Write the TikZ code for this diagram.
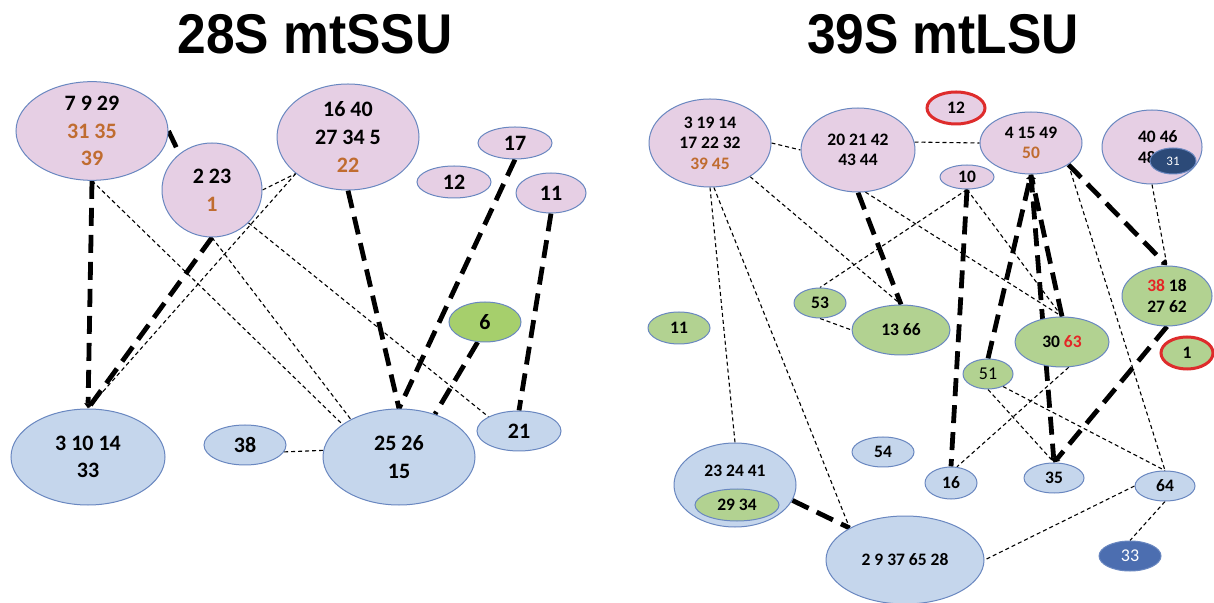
\documentclass[tikz,border=0pt]{standalone}
\usepackage{fontspec}
\usetikzlibrary{shapes.geometric,arrows.meta}
\newfontfamily\nodefont{Carlito}
\newfontfamily\titlefont[FakeStretch=0.92]{Liberation Sans}

\definecolor{pinkfill}{RGB}{230,207,228}
\definecolor{bluefill}{RGB}{197,214,236}
\definecolor{greenfill}{RGB}{178,210,145}
\definecolor{limefill}{RGB}{166,207,108}
\definecolor{rimblue}{RGB}{105,135,192}
\definecolor{brn}{RGB}{192,108,48}
\definecolor{redtxt}{RGB}{228,38,38}
\definecolor{redring}{RGB}{222,44,44}
\definecolor{navy}{RGB}{44,74,120}
\definecolor{midblue}{RGB}{76,110,176}

\pgfdeclarelayer{paper}
\pgfdeclarelayer{edges}
\pgfsetlayers{paper,edges,main}

\tikzset{
  ell/.style 2 args={ellipse, draw=rimblue, line width=0.5pt, inner sep=0pt,
    minimum width=#1pt, minimum height=#2pt},
  pk/.style 2 args={ell={#1}{#2}, fill=pinkfill},
  bu/.style 2 args={ell={#1}{#2}, fill=bluefill},
  gn/.style 2 args={ell={#1}{#2}, fill=greenfill},
  ring/.style={draw=redring, line width=1.5pt},
  big/.style={font=\nodefont\bfseries\fontsize{11}{13.8}\selectfont, align=center},
  small/.style={font=\nodefont\bfseries\fontsize{8.75}{10.3}\selectfont, align=center},
  heavy/.style={line width=2.4pt, dash pattern=on 9pt off 4.5pt},
  light/.style={line width=0.55pt, dash pattern=on 2pt off 1.5pt},
  arr/.style={-{Triangle[length=2.6pt,width=3.6pt]}},
  headline/.style={font=\titlefont\bfseries\fontsize{28}{30}\selectfont},
}

\begin{document}
\begin{tikzpicture}[x=0.5pt,y=-0.5pt]
\begin{pgfonlayer}{paper}
\fill[white] (0,0) rectangle (1214,603);
\end{pgfonlayer}
\useasboundingbox (0,0) rectangle (1214,603);

% titles
\node[headline] (t1) at (315,34) {28S mtSSU};
\node[headline] (t2) at (943,34) {39S mtLSU};

% ---------- 28S small subunit ----------
\node[pk={76}{47}, big] (s7) at (92,131)
  {7 9 29\\\textcolor{brn}{31 35}\\\textcolor{brn}{39}};
\node[pk={50}{47}, big] (s2) at (212,190) {2 23\\\textcolor{brn}{1}};
\node[pk={71}{53}, big] (s16) at (348,137)
  {16 40\\27 34 5\\\textcolor{brn}{22}};
\node[pk={37}{16}, big] (s17) at (515,143) {17};
\node[pk={37}{16}, big] (s12) at (454,182) {12};
\node[pk={35}{20}, big] (s11) at (551,193) {11};
\node[ell={36}{20}, fill=limefill, big] (s6) at (485,322) {6};
\node[bu={77}{48}, big] (s3) at (88,457) {3 10 14\\33};
\node[bu={41}{20}, big] (s38) at (245,445) {38};
\node[bu={76}{48}, big] (s25) at (399,457) {25 26\\15};
\node[bu={42}{20}, big] (s21) at (519,431) {21};

% ---------- 39S large subunit ----------
\node[pk={61}{44}, small] (l3) at (710,143)
  {3 19 14\\17 22 32\\\textcolor{brn}{39 45}};
\node[pk={57}{42}, small] (l20) at (858,150) {20 21 42\\43 44};
\node[pk={29}{16}, ring, small] (l12) at (956,108) {12};
\node[pk={51}{31}, small] (l4) at (1031,143) {4 15 49\\\textcolor{brn}{50}};
\node[pk={50}{37}] (l40) at (1152,147) {};
\node[small, align=left, anchor=west] (l40t) at (1131,147) {40 46\\48};
\node[ell={23}{13}, fill=navy, draw=rimblue, text=white,
  font=\nodefont\fontsize{6.5}{7}\selectfont] (l31) at (1173,161) {31};
\node[pk={27}{12}, small] (l10) at (967,177) {10};

\node[gn={45}{30}, small] (l38) at (1167,296) {\textcolor{redtxt}{38} 18\\27 62};
\node[gn={26}{16}, ring, small] (l1) at (1187,353) {1};
\node[gn={47}{25}, small] (l30) at (1062,342) {30 \textcolor{redtxt}{63}};
\node[gn={25}{15}, font=\nodefont\fontsize{9}{10}\selectfont] (l51) at (988,374) {51};
\node[gn={26}{15}, small] (l53) at (820,303) {53};
\node[gn={49}{25}, small] (l13) at (901,330) {13 66};
\node[gn={31}{16}, small] (l11) at (679,328) {11};

\node[bu={31}{15}, small] (l54) at (883,452) {54};
\node[bu={61}{42}] (l23) at (735,485) {};
\node[small] (l23t) at (735,471) {23 24 41};
\node[gn={42}{16}, small] (l29) at (737,505) {29 34};
\node[bu={79}{44}, small] (l2) at (905,560) {2 9 37 65 28};
\node[bu={26}{16}, small] (l16) at (951,483) {16};
\node[bu={30}{15}, small] (l35) at (1054,478) {35};
\node[bu={30}{15}, small] (l64) at (1165,486) {64};
\node[ell={31}{15}, fill=midblue, text=white,
  font=\nodefont\fontsize{9}{10}\selectfont] (l33) at (1130,556) {33};

\begin{pgfonlayer}{edges}
% 28S strong contacts
\draw[heavy] (s7.east) -- (s2.132);
\draw[heavy,arr] (s7.south) -- (s3.north);
\draw[heavy] (s2.south) -- (s3.north);
\draw[heavy] (s16.south) -- (s25.north);
\draw[heavy] (s17.south) -- (s25.north);
\draw[heavy] (s6.250) -- (s25.50);
\draw[heavy] (s11.south) -- (s21.north);
% 28S weak contacts
\draw[light] (s7.south) -- (s25.150);
\draw[light] (s2.south) -- (s25.142);
\draw[light] (s2.-42) -- (s21.155);
\draw[light] (s2.east) -- (s16.215);
\draw[light] (s16.215) -- (s3.north);
\draw[light] (s38.-10) -- (s25.175);

% 39S strong contacts
\draw[heavy] (l20.south) -- (l13.north);
\draw[heavy] (l10.south) -- (l16.north);
\draw[heavy,arr] (l51.north) -- (l4.south);
\draw[heavy,arr] (l30.north) -- (l4.south);
\draw[heavy,arr] (l4.south) -- (l35.north);
\draw[heavy,arr] (l4.-30) -- (l38.north);
\draw[heavy,arr] (l38.south) -- (l35.north);
\draw[heavy] (l23.-15) -- (l2.150);
% 39S weak contacts
\draw[light] (l3.east) -- (l20.west);
\draw[light] (l20.8) -- (l4.west);
\draw[light] (l3.south) -- (l23.north);
\draw[light] (l3.275) -- (l2.150);
\draw[light] (l3.-40) -- (l13.north);
\draw[light] (l20.280) -- (l30.north);
\draw[light] (l10.south) -- (l53.north);
\draw[light] (l10.south) -- (l30.north);
\draw[light] (l53.south) -- (l13.west);
\draw[light] (l30.-75) -- (l16.70);
\draw[light] (l51.south) -- (l35.north);
\draw[light] (l51.-40) -- (l64.north);
\draw[light] (l4.-30) -- (l64.north);
\draw[light] (l40.south) -- (l38.north);
\draw[light] (l64.west) -- (l2.east);
\draw[light] (l64.south) -- (l33.north);
\end{pgfonlayer}
\end{tikzpicture}
\end{document}
